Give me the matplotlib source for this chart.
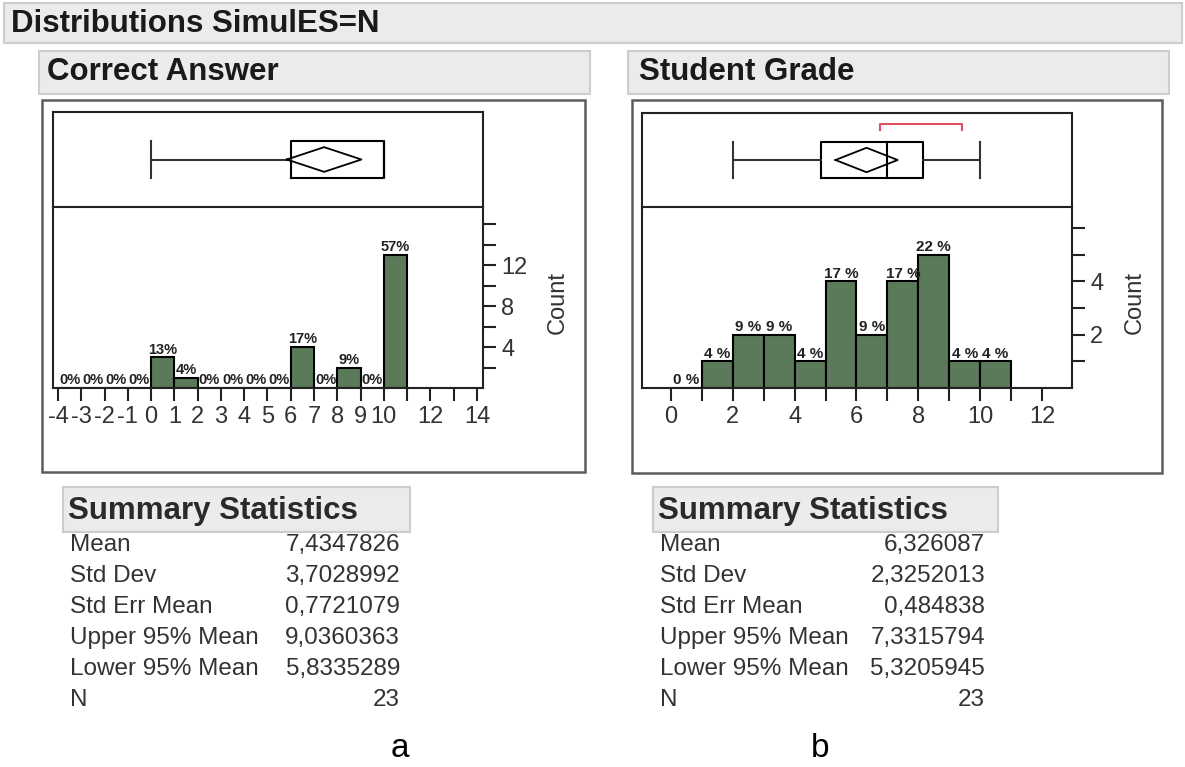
import matplotlib
matplotlib.use('Agg')
import matplotlib.pyplot as plt
from matplotlib.patches import Rectangle

plt.rcParams['font.family'] = ['Liberation Sans', 'DejaVu Sans']

# ---- data ----
title = 'Distributions SimulES=N'
panel_names = ['Correct Answer', 'Student Grade']
panel_tags = ['a', 'b']

# histogram bins (edges) and counts
ca_edges = list(range(-4, 12))
ca_counts = [0, 0, 0, 0, 3, 1, 0, 0, 0, 0, 4, 0, 2, 0, 13]
sg_edges = list(range(0, 12))
sg_counts = [0, 1, 2, 2, 1, 4, 2, 4, 5, 1, 1]

# x tick positions and labels
ca_xticks = list(range(-4, 15))
ca_xlabels = ['-4', '-3', '-2', '-1', '0', '1', '2', '3', '4', '5', '6', '7', '8', '9', '10', '', '12', '', '14']
sg_xticks = list(range(0, 13))
sg_xlabels = ['0', '', '2', '', '4', '', '6', '', '8', '', '10', '', '12']

# count axis ticks
ca_ymajor = [4, 8, 12]
ca_yminor = [2, 6, 10, 14, 16]
sg_ymajor = [2, 4]
sg_yminor = [1, 3, 5, 6]

# box plot stats (outlier box + mean diamond)
ca_box = dict(whislo=0, q1=6, med=10, q3=10, whishi=10)
sg_box = dict(whislo=2, q1=4.85, med=7, q3=8.15, whishi=10)
sg_shortest_half = [6.75, 9.4]

# summary statistics
stat_names = ['Mean', 'Std Dev', 'Std Err Mean', 'Upper 95% Mean', 'Lower 95% Mean', 'N']
ca_stats = ['7,4347826', '3,7028992', '0,7721079', '9,0360363', '5,8335289', '23']
sg_stats = ['6,326087', '2,3252013', '0,484838', '7,3315794', '5,3205945', '23']
ca_mean, ca_lo, ca_hi = 7.4347826, 5.8335289, 9.0360363
sg_mean, sg_lo, sg_hi = 6.326087, 5.3205945, 7.3315794
N = 23

W, H = 1185, 767
bar_color = '#5a7a5a'
hdr_bg = '#ebebeb'
hdr_edge = '#cdcdcd'


def fbox(x0, y0, x1, y1):
    # pixel box -> figure fraction rect
    return [x0 / W, 1 - y1 / H, (x1 - x0) / W, (y1 - y0) / H]


fig = plt.figure(figsize=(W / 100, H / 100), dpi=100)

# background layer in pixel coords: headers, frames, summary tables
bg = fig.add_axes([0, 0, 1, 1])
bg.set_xlim(0, W)
bg.set_ylim(H, 0)
bg.axis('off')
bg.set_zorder(-1)

bg.add_patch(Rectangle((4, 3), 1178, 40, fc=hdr_bg, ec=hdr_edge, lw=1.5))
bg.text(11, 24, title, fontsize=22.5, fontweight='bold', va='center', color='#1a1a1a')

panels = [
    dict(hdr=(39, 51, 590, 94), frame=(42, 100, 585, 472), hx=47,
         inner=(53, 112, 483, 207, 388), sum_box=(63, 487, 410, 532), sx=70, vx=400,
         count_x=558, tag_x=400, pct_fmt='%d%%', pct_size=10.5),
    dict(hdr=(628, 51, 1169, 94), frame=(632, 100, 1162, 473), hx=639,
         inner=(642, 113, 1072, 207, 388), sum_box=(653, 487, 998, 532), sx=660, vx=985,
         count_x=1135, tag_x=820, pct_fmt='%d %%', pct_size=11),
]
row_y = [545, 576, 607, 638, 669, 700]

for p, name, vals, tag in zip(panels, panel_names, [ca_stats, sg_stats], panel_tags):
    x0, y0, x1, y1 = p['hdr']
    bg.add_patch(Rectangle((x0, y0), x1 - x0, y1 - y0, fc=hdr_bg, ec=hdr_edge, lw=1.5))
    bg.text(p['hx'], (y0 + y1) / 2, name, fontsize=22.5, fontweight='bold', va='center', color='#1a1a1a')
    x0, y0, x1, y1 = p['frame']
    bg.add_patch(Rectangle((x0, y0), x1 - x0, y1 - y0, fc='white', ec='#5c5c5c', lw=1.8))
    x0, y0, x1, y1 = p['sum_box']
    bg.add_patch(Rectangle((x0, y0), x1 - x0, y1 - y0, fc=hdr_bg, ec=hdr_edge, lw=1.5))
    bg.text(p['sx'] - 2, (y0 + y1) / 2 + 1, 'Summary Statistics', fontsize=22.5, fontweight='bold',
            va='center', color='#2a2a2a')
    for yy, nm, v in zip(row_y, stat_names, vals):
        bg.text(p['sx'], yy, nm, fontsize=17.5, va='center', color='#333333')
        bg.text(p['vx'], yy, v, fontsize=17.5, va='center', ha='right', color='#333333')
    bg.text(p['count_x'], 303, 'Count', fontsize=17, rotation=90, ha='center', va='center', color='#333333')
    bg.text(p['tag_x'], 757, tag, fontsize=24, ha='center', va='baseline', color='black')

lw = 1.5
specs = [
    (ca_edges, ca_counts, ca_xticks, ca_xlabels, ca_ymajor, ca_yminor, (-4.215, 14.26), 17.66,
     ca_box, (ca_mean, ca_lo, ca_hi), None),
    (sg_edges, sg_counts, sg_xticks, sg_xlabels, sg_ymajor, sg_yminor, (-0.935, 12.97), 6.78,
     sg_box, (sg_mean, sg_lo, sg_hi), sg_shortest_half),
]

for p, (edges, counts, xt, xl, ymaj, ymin, xlim, ytop, box, diam, half) in zip(panels, specs):
    x0, y0, x1, ydiv, y1 = p['inner']

    # histogram
    ax = fig.add_axes(fbox(x0, ydiv, x1, y1))
    ax.bar(edges[:-1], counts, width=1, align='edge', color=bar_color, edgecolor='black', lw=lw, zorder=2)
    ax.set_xlim(*xlim)
    ax.set_ylim(0, ytop)
    for c, lo in zip(counts, edges[:-1]):
        ax.annotate(p['pct_fmt'] % round(100 * c / N), (lo + 0.5, c), xytext=(0, 0.5),
                    textcoords='offset points', ha='center', va='bottom', fontsize=p['pct_size'],
                    fontweight='bold', color='#222222', zorder=3)
    ax.spines['top'].set_visible(False)
    for s in ['left', 'right', 'bottom']:
        ax.spines[s].set_linewidth(lw)
        ax.spines[s].set_color('#222222')
    ax.set_xticks(xt)
    ax.set_xticklabels(xl)
    ax.yaxis.tick_right()
    ax.set_yticks(ymaj)
    ax.set_yticks(ymin, minor=True)
    ax.tick_params(axis='x', direction='out', length=9, width=lw, color='#222222', labelsize=17,
                   pad=4, labelcolor='#333333')
    ax.tick_params(axis='y', which='both', direction='out', length=9, width=lw, color='#222222',
                   labelsize=17, pad=4, labelcolor='#333333', left=False, right=True)
    ax.patch.set_alpha(0)

    # box plot with means diamond
    axb = fig.add_axes(fbox(x0, y0, x1, ydiv))
    axb.set_xlim(*xlim)
    axb.set_ylim(0, 1)
    props = dict(color='black', lw=lw)
    axb.bxp([box], positions=[0.5], widths=[0.39], capwidths=[0.39], orientation='horizontal',
            showfliers=False, boxprops=props, medianprops=props,
            whiskerprops=dict(color='#333333', lw=lw), capprops=dict(color='#333333', lw=lw))
    m, lo, hi = diam
    axb.plot([lo, m, hi, m, lo], [0.5, 0.63, 0.5, 0.37, 0.5], color='black', lw=1.3)
    if half is not None:
        axb.plot([half[0], half[0], half[1], half[1]], [0.82, 0.884, 0.884, 0.82], color='#e25060', lw=1.5)
    axb.set_xticks([])
    axb.set_yticks([])
    for s in axb.spines.values():
        s.set_linewidth(lw)
        s.set_color('#222222')
    axb.patch.set_alpha(0)

fig.savefig('out.png', dpi=100)
